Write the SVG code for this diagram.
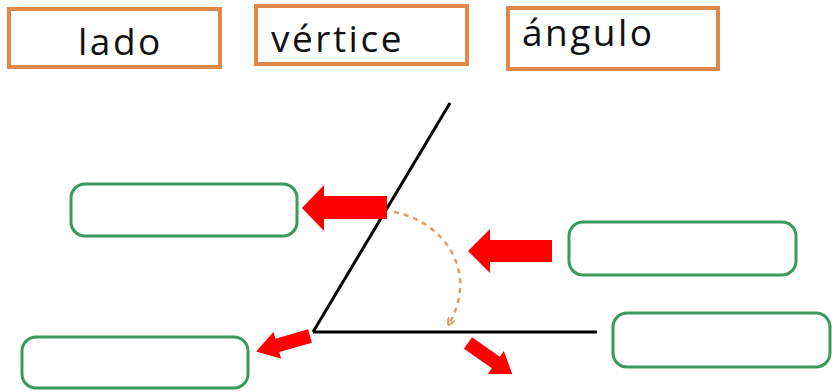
<svg xmlns="http://www.w3.org/2000/svg" width="832" height="392" viewBox="0 0 832 392">
<style>
.word{fill:#fff;stroke:#e0874a;stroke-width:4}
.lbl{font-family:"Open Sans","Liberation Sans",sans-serif;font-size:37px;letter-spacing:2.5px;fill:#111}
.ans{fill:#fff;stroke:#3a9a5c;stroke-width:3}
.ray{stroke:#000;stroke-width:3;fill:none}
.red{fill:#f00}
</style>
<defs>
<marker id="ah" markerWidth="8" markerHeight="8" refX="4" refY="4" orient="auto" markerUnits="userSpaceOnUse">
<path d="M0,0 L8,4 L0,8" fill="none" stroke="#d9a066" stroke-width="2"/>
</marker>
</defs>
<rect width="832" height="392" fill="#fff"/>
<g id="word-lado"><rect class="word" x="9" y="9" width="211" height="58"/><text class="lbl" x="78" y="55">lado</text></g>
<g id="word-vertice"><rect class="word" x="256" y="6" width="211" height="58"/><text class="lbl" x="271" y="52">vértice</text></g>
<g id="word-angulo"><rect class="word" x="508" y="8" width="210" height="61"/><text class="lbl" x="522" y="46">ángulo</text></g>
<g id="box-top-left"><rect class="ans" x="71" y="184" width="226" height="52" rx="14"/></g>
<g id="box-bottom-left"><rect class="ans" x="22" y="337" width="226" height="51" rx="14"/></g>
<g id="box-top-right"><rect class="ans" x="569" y="222" width="227" height="53" rx="14"/></g>
<g id="box-bottom-right"><rect class="ans" x="613" y="313" width="217" height="54" rx="14"/></g>
<g id="angle">
<line class="ray" x1="313" y1="332" x2="450" y2="103"/>
<line class="ray" x1="313" y1="332" x2="597" y2="332"/>
<path d="M394,212 C445,222 478,272 450,322" fill="none" stroke="#d9a066" stroke-width="2.5" stroke-dasharray="5,5" marker-end="url(#ah)"/>
</g>
<g id="connectors">
<polygon class="red" points="302,208 324,185 324,196 387,196 387,219 324,219 324,231"/>
<polygon class="red" points="468,251 490,229 490,240 552,240 552,262 490,262 490,273"/>
<polygon class="red" transform="translate(310,336) rotate(164)" points="0,-7 34,-7 34,-14 56,0 34,14 34,7 0,7"/>
<polygon class="red" transform="translate(468,343) rotate(35)" points="0,-7 34,-7 34,-14 54,0 34,14 34,7 0,7"/>
</g>
</svg>
